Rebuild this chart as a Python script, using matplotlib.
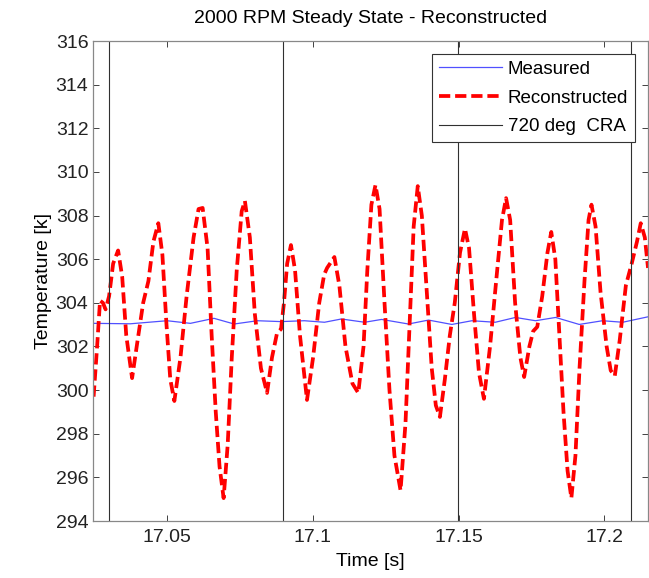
import matplotlib as mpl
mpl.use('Agg')
import matplotlib.pyplot as plt

# reconstructed temperature
rec_t = [17.0248, 17.0260, 17.0270, 17.0280, 17.0289, 17.0301, 17.0315, 17.0332,
         17.0346, 17.0360, 17.0380, 17.0398, 17.0418, 17.0436, 17.0453, 17.0470,
         17.0484, 17.0498, 17.0511, 17.0525, 17.0546, 17.0567, 17.0591, 17.0608,
         17.0622, 17.0639, 17.0653, 17.0667, 17.0680, 17.0694, 17.0708, 17.0722,
         17.0739, 17.0756, 17.0767, 17.0784, 17.0801, 17.0822, 17.0843, 17.0860,
         17.0877, 17.0891, 17.0901, 17.0912, 17.0925, 17.0939, 17.0956, 17.0980,
         17.1001, 17.1022, 17.1039, 17.1049, 17.1074, 17.1091, 17.1112, 17.1136,
         17.1156, 17.1174, 17.1187, 17.1201, 17.1215, 17.1229, 17.1246, 17.1263,
         17.1280, 17.1301, 17.1318, 17.1332, 17.1346, 17.1360, 17.1374, 17.1391,
         17.1408, 17.1422, 17.1436, 17.1453, 17.1470, 17.1487, 17.1505, 17.1522,
         17.1536, 17.1553, 17.1570, 17.1587, 17.1608, 17.1629, 17.1649, 17.1663,
         17.1677, 17.1694, 17.1712, 17.1725, 17.1743, 17.1756, 17.1770, 17.1787,
         17.1805, 17.1818, 17.1832, 17.1846, 17.1860, 17.1874, 17.1887, 17.1901,
         17.1915, 17.1932, 17.1946, 17.1956, 17.1970, 17.1987, 17.2008, 17.2022,
         17.2036, 17.2053, 17.2074, 17.2094, 17.2112, 17.2125, 17.2139, 17.2150]
rec_T = [299.7, 302.0, 304.1, 304.0, 303.7, 304.3, 305.8, 306.4,
         305.2, 302.5, 300.55, 302.2, 304.0, 305.0, 306.8, 307.65,
         306.2, 303.0, 300.5, 299.5, 301.5, 304.3, 307.0, 308.3,
         308.35, 306.5, 302.5, 299.0, 296.5, 295.05, 297.5, 301.5,
         305.5, 308.2, 308.67, 307.0, 303.5, 301.0, 299.87, 301.5,
         302.6, 302.8, 304.0, 305.8, 306.65, 305.5, 302.5, 299.55,
         301.5, 304.0, 305.3, 305.6, 306.1, 304.8, 302.0, 300.3,
         299.87, 302.0, 305.5, 308.5, 309.4, 308.3, 304.0, 300.0,
         297.0, 295.4, 298.5, 303.0, 307.5, 309.35, 308.0, 304.5,
         301.0, 299.3, 298.77, 300.5, 302.5, 304.0, 306.3, 307.4,
         306.5, 303.5, 300.8, 299.6, 302.0, 305.0, 307.8, 308.8,
         307.8, 304.0, 301.5, 300.6, 302.0, 302.7, 302.9, 304.3,
         306.3, 307.25, 306.0, 302.5, 299.0, 296.3, 295.05, 297.0,
         301.0, 305.0, 307.8, 308.5, 307.5, 304.5, 302.0, 300.9,
         300.65, 302.3, 304.8, 305.8, 306.8, 307.65, 307.0, 305.6]

# measured temperature
meas_t = [17.0247, 17.0374, 17.0500, 17.0580, 17.0661, 17.0730, 17.0810, 17.0891,
          17.0971, 17.1040, 17.1098, 17.1178, 17.1236, 17.1328, 17.1397, 17.1477,
          17.1546, 17.1626, 17.1695, 17.1764, 17.1833, 17.1914, 17.1994, 17.2063,
          17.2150]
meas_T = [303.06, 303.04, 303.18, 303.06, 303.29, 303.03, 303.18, 303.14,
          303.18, 303.11, 303.26, 303.11, 303.24, 303.03, 303.21, 303.01,
          303.18, 303.11, 303.33, 303.18, 303.33, 303.01, 303.18, 303.11,
          303.36]

# 720 deg crank angle markers
cra_t = [17.0300, 17.0898, 17.1497, 17.2092]

x_ticks = [17.05, 17.1, 17.15, 17.2]
x_labels = ['17.05', '17.1', '17.15', '17.2']
y_ticks = list(range(294, 317, 2))

plt.rcParams['font.family'] = ['Liberation Sans', 'DejaVu Sans']

fig = plt.figure(figsize=(6.49, 5.78), dpi=100)
ax = fig.add_axes([0.1438, 0.0986, 0.8547, 0.8304])

ax.plot(meas_t, meas_T, color='#5050ff', linewidth=0.9, label='Measured')
ax.plot(rec_t, rec_T, color='red', linestyle=(0, (3, 1.3)), linewidth=2.7,
        label='Reconstructed')
for i, t in enumerate(cra_t):
    ax.axvline(t, color='#303030', linewidth=0.8,
               label='720 deg  CRA' if i == 0 else None)

ax.set_xlim(17.0247, 17.2150)
ax.set_ylim(294, 316)
ax.set_xticks(x_ticks)
ax.set_xticklabels(x_labels)
ax.set_yticks(y_ticks)
ax.tick_params(direction='in', top=True, right=True, length=4, width=0.6,
               labelsize=14, colors='#222222')
ax.tick_params(axis='x', pad=6)
for s in ax.spines.values():
    s.set_color('#888888')
    s.set_linewidth(0.9)

ax.set_title('2000 RPM Steady State - Reconstructed', fontsize=14, pad=13)
ax.set_xlabel('Time [s]', fontsize=14, labelpad=5)
ax.set_ylabel('Temperature [k]', fontsize=14, labelpad=3)

leg = ax.legend(loc='upper right', fontsize=13.5, fancybox=False,
                framealpha=1, edgecolor='#333333', borderpad=0.35,
                labelspacing=0.62, handlelength=3.4, handletextpad=0.3,
                borderaxespad=0.7)
leg.get_frame().set_linewidth(0.8)

fig.savefig('out.png', dpi=100)
